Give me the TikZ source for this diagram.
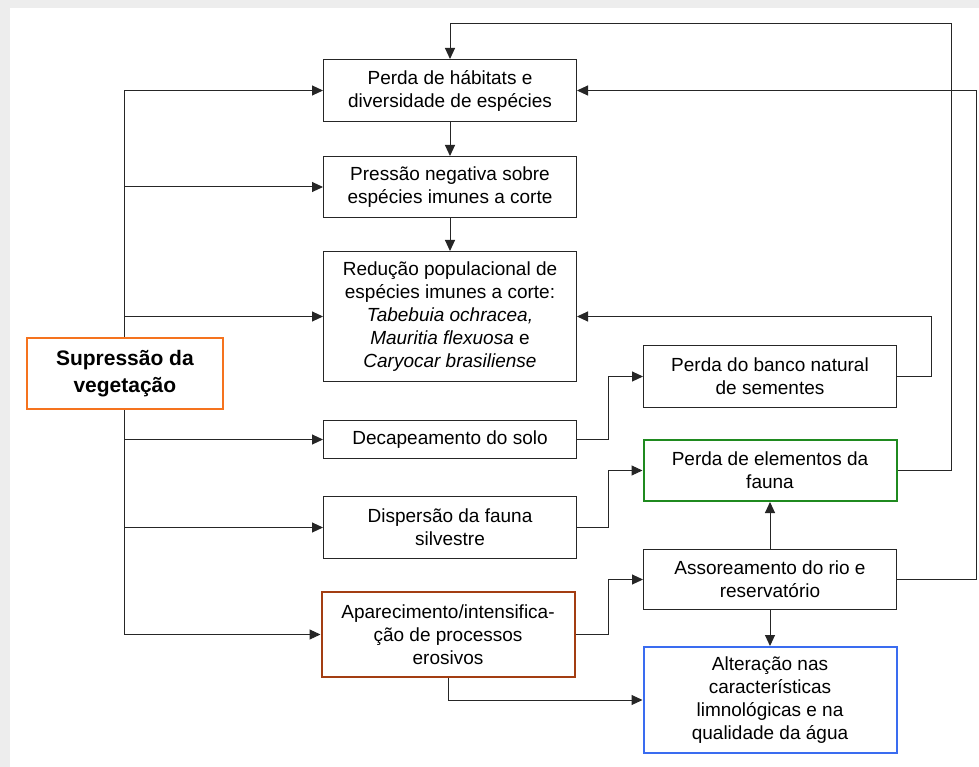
\documentclass[tikz,border=0pt]{standalone}
\usepackage{fontspec}
\setmainfont{Liberation Sans}
\usepackage{xcolor}
\usetikzlibrary{
    arrows.meta,
    positioning
}
\definecolor{suporange}{HTML}{F5731E}
\definecolor{faunagreen}{HTML}{1F8A1F}
\definecolor{erosbrown}{HTML}{A33D12}
\definecolor{aguablue}{HTML}{3A6CF0}
\tikzset{
    block/.style={
        rectangle,
        draw=black!85,
        line width=1pt,
        align=center,
        inner sep=2pt,
        minimum height=62pt,
        minimum width=253pt,
        font=\fontsize{19}{23}\selectfont
    },
    mainblock/.style={
        rectangle,
        draw=suporange,
        line width=2.2pt,
        align=center,
        minimum height=71pt,
        minimum width=196pt,
        font=\fontsize{21}{27}\selectfont\bfseries
    },
    arrow/.style={
        -{Triangle[length=11pt,width=10pt]},
        line width=1pt,
        black!85
    }
}

\begin{document}
\begin{tikzpicture}[x=1pt, y=-1pt]
% frame
\fill[black!7] (0,0) rectangle (979,767);
\fill[white] (10,8) rectangle (979,767);
\useasboundingbox (0,0) rectangle (979,767);

% central column
\node[block] (habitat) at (450,90.5) {Perda de hábitats e\\diversidade de espécies};
\node[block, below=34pt of habitat, minimum height=61pt] (pressao) {Pressão negativa sobre\\espécies imunes a corte};
\node[block, below=33pt of pressao, minimum height=130pt] (reducao) {Redução populacional de\\espécies imunes a corte:\\\textit{Tabebuia ochracea,}\\\textit{Mauritia flexuosa} e\\\textit{Caryocar brasiliense}};
\node[block, below=38pt of reducao, minimum height=38pt] (decap) {Decapeamento do solo};
\node[block, below=37pt of decap] (dispersao) {Dispersão da fauna\\silvestre};
\node[block, below=32pt of dispersao, xshift=-2pt, minimum height=85pt, draw=erosbrown, line width=2pt] (erosao) {Aparecimento/intensifica-\\ção de processos\\erosivos};

% left
\node[mainblock, left=99pt of reducao, yshift=-57pt] (supressao) {Supressão da\\vegetação};

% right column
\node[block, right=66pt of reducao, yshift=-60pt] (sementes) {Perda do banco natural\\de sementes};
\node[block, below=31pt of sementes, minimum height=61pt, draw=faunagreen, line width=2pt] (fauna) {Perda de elementos da\\fauna};
\node[block, below=47pt of fauna, minimum height=60pt] (assoreamento) {Assoreamento do rio e\\reservatório};
\node[block, below=36pt of assoreamento, minimum height=106pt, draw=aguablue, line width=2pt] (agua) {Alteração nas\\características\\limnológicas e na\\qualidade da água};

\coordinate[above=35pt of habitat.north] (topo);

\draw[arrow] (supressao.north) |- (habitat.west);
\draw[arrow] (supressao.north) |- (pressao.west);
\draw[arrow] (supressao.north) |- (reducao.west);
\draw[arrow] (supressao.south) |- (decap.west);
\draw[arrow] (supressao.south) |- (dispersao.west);
\draw[arrow] (supressao.south) |- (erosao.west);

\draw[arrow] (habitat) -- (pressao);
\draw[arrow] (pressao) -- (reducao);

\draw[arrow] (decap.east) -- ++(31,0) |- (sementes.west);
\draw[arrow] (dispersao.east) -- ++(31,0) |- (fauna.west);
\draw[arrow] (erosao.east) -- ++(33,0) |- (assoreamento.west);
\draw[arrow] (erosao.south) |- (agua.west);
\draw[arrow] (assoreamento) -- (fauna);
\draw[arrow] (assoreamento) -- (agua);

\draw[arrow] (sementes.east) -- ++(34,0) |- (reducao.east);
\draw[arrow] (fauna.east) -- ++(54,0) |- (topo) -- (habitat.north);
\draw[arrow] (assoreamento.east) -- ++(79,0) |- (habitat.east);
\end{tikzpicture}
\end{document}
